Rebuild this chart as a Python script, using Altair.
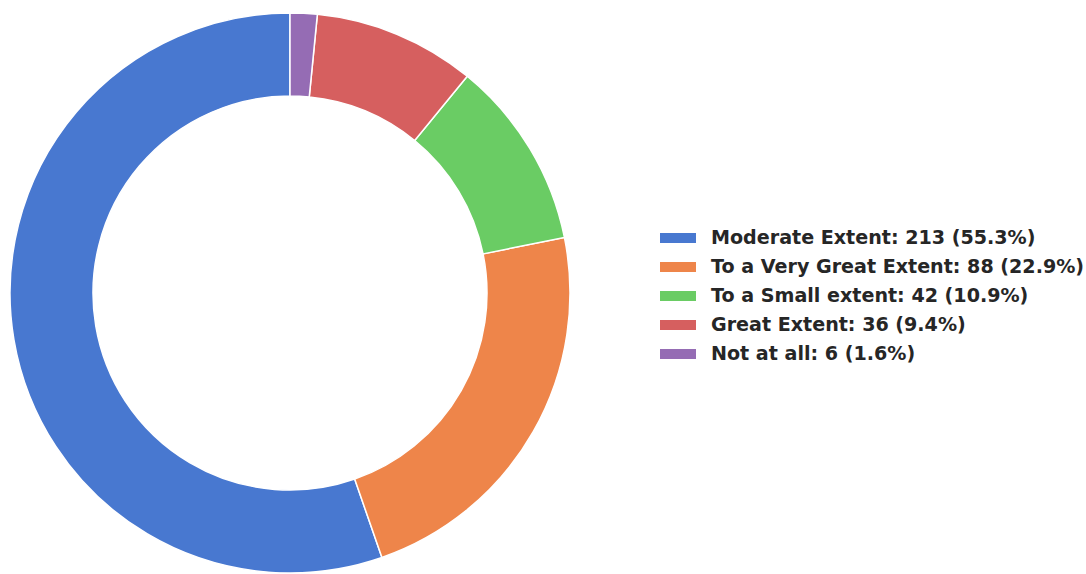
import altair as alt
import pandas as pd

categories = ["Moderate Extent", "To a Very Great Extent", "To a Small extent", "Great Extent", "Not at all"]
counts = [213, 88, 42, 36, 6]
colors = ["#4878d0", "#ee854a", "#6acc64", "#d65f5f", "#956cb4"]

total = sum(counts)
labels = [f"{c}: {n} ({n / total * 100:.1f}%)" for c, n in zip(categories, counts)]
df = pd.DataFrame({
    "label": labels,
    "count": counts,
    "ord": list(range(len(categories), 0, -1)),
})

chart = alt.Chart(df).mark_arc(
    radius=280, radius2=197, stroke="white", strokeWidth=1.5
).encode(
    theta=alt.Theta("count:Q", stack=True),
    order=alt.Order("ord:Q", sort="ascending"),
    color=alt.Color(
        "label:N",
        scale=alt.Scale(domain=labels, range=colors),
        legend=alt.Legend(
            title=None,
            orient="none",
            legendX=660,
            legendY=220,
            symbolType="M-1,-0.28H1V0.28H-1Z",
            symbolSize=1296,
            symbolStrokeWidth=0,
            symbolOpacity=1,
            labelFont="DejaVu Sans",
            labelFontWeight="bold",
            labelFontSize=19.1,
            labelColor="#262626",
            labelOffset=15,
            labelLimit=600,
            rowPadding=-4.9,
        ),
    ),
    x=alt.value(290),
    y=alt.value(293),
).properties(
    width=1086, height=574, padding=0, autosize=alt.AutoSizeParams(type="none")
).configure_view(stroke=None)

chart.save("out.html", embed_options={"renderer": "svg", "actions": False})
